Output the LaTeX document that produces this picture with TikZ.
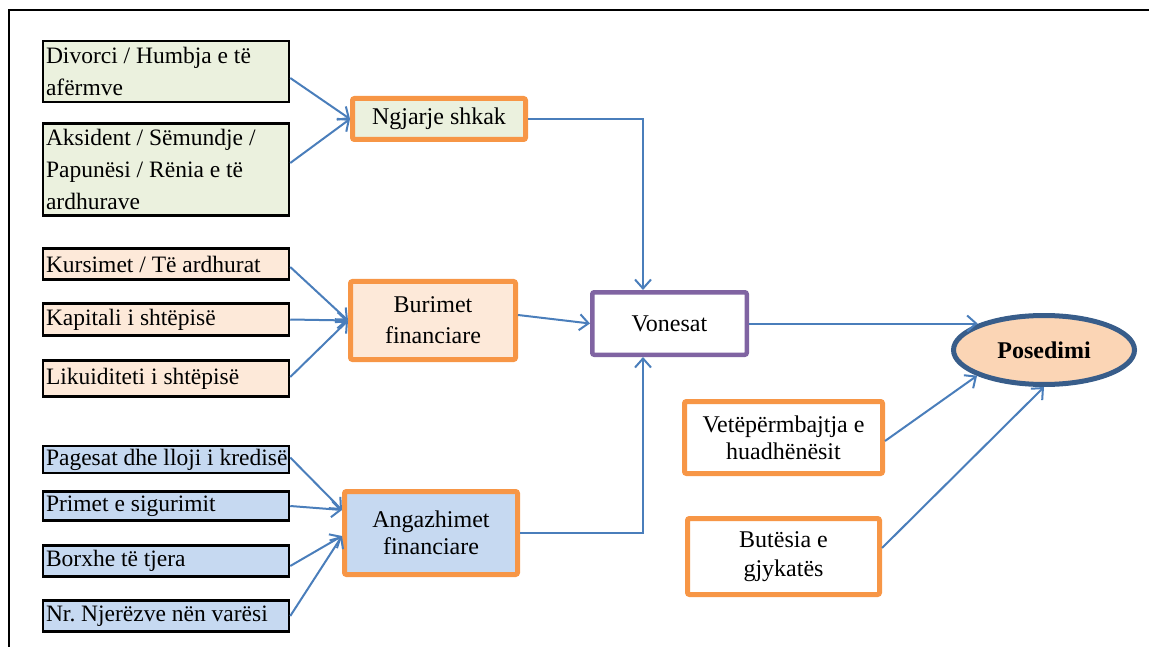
\documentclass[tikz,border=0pt]{standalone}
\usepackage{fontspec}
\setmainfont{Liberation Serif}
\usetikzlibrary{arrows.meta,shapes.geometric,calc}
\definecolor{arrowblue}{RGB}{74,126,187}
\definecolor{fillgreen}{RGB}{235,241,222}
\definecolor{fillpeach}{RGB}{253,233,217}
\definecolor{fillblue}{RGB}{198,217,241}
\definecolor{boxorange}{RGB}{247,150,70}
\definecolor{boxpurple}{RGB}{128,100,162}
\definecolor{ellborder}{RGB}{56,93,138}
\definecolor{ellfill}{RGB}{251,213,181}
\newcommand\natsp{\spaceskip=0pt\xspaceskip=0pt\relax}
\begin{document}
\frenchspacing
\begin{tikzpicture}[x=1pt,y=-1pt,
  txt/.style={font=\fontsize{23.5}{32}\selectfont},
  leftbox/.style={txt, draw=black, line width=2.5pt, inner xsep=3pt, inner ysep=0pt, minimum width=246pt, text width=240pt, align=left},
  midbox/.style={font=\fontsize{24}{32}\selectfont, draw=boxorange, line width=5pt, rounded corners=2pt, inner sep=0pt, align=center},
  conn/.style={draw=arrowblue, line width=2pt, -{Straight Barb[length=9pt,width=16pt]}},
]
\useasboundingbox (0,0) rectangle (1149,647);
\draw[line width=2.5pt] (1152,10) -- (9,10) -- (9,650);

\node[leftbox, fill=fillgreen, minimum height=61pt] (d1) at (166,71.5) {\natsp Divorci / Humbja e të\\afërmve};
\node[leftbox, fill=fillgreen, minimum height=92pt] (d2) at (166,169.5) {\natsp Aksident / Sëmundje /\\Papunësi / Rënia e të\\ardhurave};
\node[leftbox, fill=fillpeach, minimum height=31pt] (k1) at (166,264) {\natsp Kursimet / Të ardhurat};
\node[leftbox, fill=fillpeach, minimum height=32pt] (k2) at (166,319.5) {\natsp Kapitali i shtëpisë};
\node[leftbox, fill=fillpeach, minimum height=36pt] (k3) at (166,378.5) {\natsp Likuiditeti i shtëpisë};
\node[leftbox, fill=fillblue, minimum height=27pt] (p1) at (166,459.5) {\natsp\mbox{Pagesat dhe lloji i kredisë}};
\node[leftbox, fill=fillblue, minimum height=29pt] (p2) at (166,506) {\natsp Primet e sigurimit};
\node[leftbox, fill=fillblue, minimum height=31pt] (p3) at (166,561) {\natsp Borxhe të tjera};
\node[leftbox, fill=fillblue, minimum height=31pt] (p4) at (166,616) {\natsp Nr. Njerëzve nën varësi};

\node[midbox, fill=fillgreen, minimum width=173pt, minimum height=41pt] (ng) at (439,119) {Ngjarje shkak};
\node[midbox, fill=fillpeach, minimum width=165pt, minimum height=78pt, font=\fontsize{24}{31}\selectfont] (bf) at (433,320.5) {Burimet\\financiare};
\node[midbox, fill=fillblue, minimum width=173pt, minimum height=83pt, font=\fontsize{24}{27}\selectfont] (af) at (431,533) {Angazhimet\\financiare};
\node[midbox, draw=boxpurple, line width=4.5pt, fill=white, minimum width=154.5pt, minimum height=62.5pt] (vo) at (669.5,323.5) {Vonesat};
\node[midbox, fill=white, minimum width=198pt, minimum height=72pt, font=\fontsize{24}{27}\selectfont] (ve) at (783.5,437.5) {Vetëpërmbajtja e\\huadhënësit};
\node[midbox, fill=white, minimum width=192pt, minimum height=76pt, font=\fontsize{24}{29}\selectfont] (bu) at (783.5,556.5) {Butësia e\\gjykatës};
\node[ellipse, draw=ellborder, line width=5pt, fill=ellfill, minimum width=181pt, minimum height=69pt, inner sep=0pt, font=\bfseries\fontsize{24}{28}\selectfont] (po) at (1044,350) {Posedimi};

\draw[conn] ([yshift=-6.5pt]d1.east) -- (ng.west);
\draw[conn] ([yshift=6.5pt]d2.east) -- (ng.west);
\draw[conn] ([yshift=-3pt]k1.east) -- (bf.west);
\draw[conn] (k2.east) -- (bf.west);
\draw[conn] ([yshift=1.5pt]k3.east) -- (bf.west);
\draw[conn] ([yshift=2pt]p1.east) -- ([yshift=23pt]af.west);
\draw[conn] (p2.east) -- ([yshift=23pt]af.west);
\draw[conn] ([yshift=-5pt]p3.east) -- ([yshift=-3pt]af.west);
\draw[conn] (p4.east) -- ([yshift=-3pt]af.west);
\draw[conn] (ng.east) -| ([xshift=-26.5pt]vo.north);
\draw[conn] (af.east) -| ([xshift=-26.5pt]vo.south);
\draw[conn] ([yshift=5.5pt]bf.east) -- (vo.west);
\draw[conn, shorten >=6pt] (vo.east) -- (vo.east -| po.155);
\draw[conn] ([yshift=-3.5pt]ve.east) -- (po.201);
\draw[conn] ([yshift=8.5pt]bu.east) -- (po.south);
\end{tikzpicture}
\end{document}
